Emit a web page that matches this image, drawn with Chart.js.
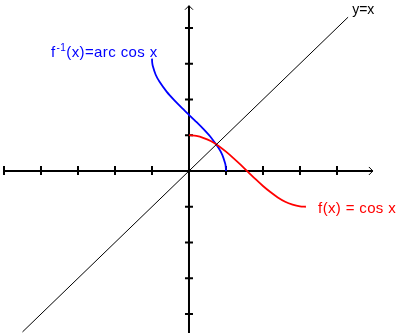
<!DOCTYPE html>
<html>
<head>
<meta charset="utf-8">
<script src="https://cdn.jsdelivr.net/npm/chart.js@4"></script>
<style>
  html, body { margin: 0; padding: 0; background: #fff; }
  #wrap { width: 398px; height: 333px; position: relative; }
</style>
</head>
<body>
<div id="wrap"><canvas id="chart"></canvas></div>
<script>
// cos x
const cosX = [0, 0.2, 0.4, 0.6, 0.8, 1.0, 1.2, 1.4, 1.6, 1.8, 2.0, 2.2, 2.4, 2.6, 2.8, 3.0, 3.16];
const cosY = [1, 0.98, 0.92, 0.83, 0.70, 0.54, 0.36, 0.17, -0.03, -0.23, -0.42, -0.59, -0.74, -0.86, -0.94, -0.99, -1.0];

// arc cos x
const acosX = [-1, -0.995, -0.98, -0.9, -0.8, -0.6, -0.4, -0.2, 0, 0.2, 0.4, 0.6, 0.8, 0.9, 0.98, 0.995, 1];
const acosY = [3.14, 3.04, 2.94, 2.69, 2.50, 2.21, 1.98, 1.77, 1.57, 1.37, 1.16, 0.93, 0.64, 0.45, 0.20, 0.10, 0];

// y = x line ends
const idX = [-4.5, 4.3];
const idY = [-4.5, 4.3];

// axis ticks
const xTicks = [-5, -4, -3, -2, -1, 1, 2, 3, 4];
const yTicks = [-4, -3, -2, -1, 1, 2, 3, 4];

const toPoints = (xs, ys) => xs.map((x, i) => ({ x: x, y: ys[i] }));

// axes with crossing tick marks and open arrow heads
const axesPlugin = {
    id: 'axes',
    beforeDatasetsDraw(chart) {
        const ctx = chart.ctx;
        const sx = chart.scales.x, sy = chart.scales.y;
        const ox = sx.getPixelForValue(0), oy = sy.getPixelForValue(0);
        ctx.save();
        ctx.strokeStyle = '#000';
        ctx.lineWidth = 2;
        ctx.beginPath();
        // x axis
        const xl = sx.getPixelForValue(-5), xr = sx.getPixelForValue(4.97);
        ctx.moveTo(xl, oy); ctx.lineTo(xr, oy);
        // y axis
        const yt = sy.getPixelForValue(4.62), yb = sy.getPixelForValue(-4.6);
        ctx.moveTo(ox, yt); ctx.lineTo(ox, yb);
        xTicks.forEach(v => {
            const p = sx.getPixelForValue(v);
            ctx.moveTo(p, oy - 5); ctx.lineTo(p, oy + 4);
        });
        yTicks.forEach(v => {
            const p = sy.getPixelForValue(v);
            ctx.moveTo(ox - 4, p); ctx.lineTo(ox + 4, p);
        });
        ctx.stroke();
        // arrow heads
        ctx.lineWidth = 1;
        ctx.beginPath();
        ctx.moveTo(xr - 4, oy - 4); ctx.lineTo(xr, oy); ctx.lineTo(xr - 4, oy + 4);
        ctx.moveTo(ox - 4, yt + 4); ctx.lineTo(ox, yt); ctx.lineTo(ox + 4, yt + 4);
        ctx.stroke();
        ctx.restore();
    },
    afterDraw(chart) {
        const ctx = chart.ctx;
        const sx = chart.scales.x, sy = chart.scales.y;
        ctx.save();
        ctx.textBaseline = 'alphabetic';
        // blue label with superscript -1
        ctx.letterSpacing = '0.4px';
        let px = sx.getPixelForValue(-3.73), py = sy.getPixelForValue(3.19);
        ctx.fillStyle = '#0000ff';
        ctx.font = '15px "Liberation Sans", Arial, sans-serif';
        ctx.fillText('f', px, py);
        px += ctx.measureText('f').width + 1;
        ctx.font = '10px "Liberation Sans", Arial, sans-serif';
        ctx.fillText('-1', px, py - 6);
        px += ctx.measureText('-1').width;
        ctx.font = '15px "Liberation Sans", Arial, sans-serif';
        ctx.fillText('(x)=arc cos x', px, py);
        // red label
        ctx.letterSpacing = '0.35px';
        ctx.fillStyle = '#ff0000';
        ctx.font = '15px "Liberation Sans", Arial, sans-serif';
        ctx.fillText('f(x) = cos x', sx.getPixelForValue(3.49), sy.getPixelForValue(-1.17));
        // y=x label
        ctx.letterSpacing = '0px';
        ctx.fillStyle = '#000';
        ctx.font = '14px "Liberation Sans", Arial, sans-serif';
        ctx.fillText('y=x', sx.getPixelForValue(4.41), sy.getPixelForValue(4.39));
        ctx.restore();
    }
};

new Chart(document.getElementById('chart'), {
    type: 'scatter',
    data: {
        datasets: [
            {
                label: 'y=x',
                data: toPoints(idX, idY),
                showLine: true,
                borderColor: '#000',
                borderWidth: 1,
                pointRadius: 0
            },
            {
                label: 'cos x',
                data: toPoints(cosX, cosY),
                showLine: true,
                borderColor: '#ff0000',
                borderWidth: 1.8,
                pointRadius: 0,
                tension: 0.3
            },
            {
                label: 'arc cos x',
                data: toPoints(acosX, acosY),
                showLine: true,
                borderColor: '#0000ff',
                borderWidth: 1.8,
                pointRadius: 0,
                tension: 0.2
            }
        ]
    },
    options: {
        responsive: true,
        maintainAspectRatio: false,
        animation: false,
        layout: { padding: 0 },
        scales: {
            x: { type: 'linear', min: -5.108, max: 5.649, display: false },
            y: { type: 'linear', min: -4.53, max: 4.78, display: false }
        },
        plugins: {
            legend: { display: false },
            tooltip: { enabled: false }
        }
    },
    plugins: [axesPlugin]
});
</script>
</body>
</html>
